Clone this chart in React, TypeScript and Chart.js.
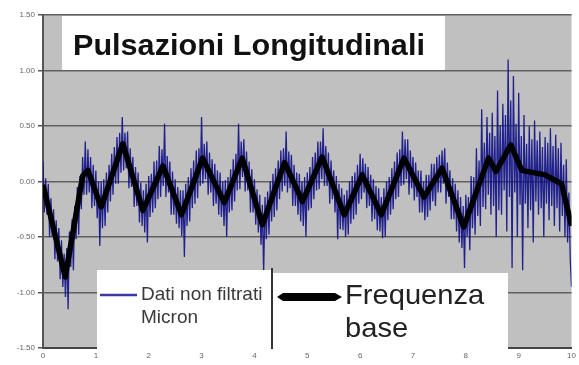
import React, { useEffect, useRef } from "react";
import { Chart, registerables } from "chart.js";

Chart.register(...registerables);

const chartTitle = "Pulsazioni Longitudinali";
const rawLabelLines = ["Dati non filtrati", "Micron"];
const baseLabelLines = ["Frequenza", "base"];
const yTickValues = [-1.5, -1.0, -0.5, 0, 0.5, 1.0, 1.5];
const xTickValues = [0, 1, 2, 3, 4, 5, 6, 7, 8, 9, 10];

// unfiltered signal, one reading every sampleStep (time 0 .. 10)
const sampleStep = 0.025;
const rawValues = [
  0.18, -0.28, 0.03, -0.3, -0.02, -0.5, -0.15, -0.5, -0.25, -0.7, -0.35, -0.72, -0.42, -0.88, -0.53, -0.95, -0.65, -1.04, -0.6, -1.15,
  -0.45, -0.77, -0.34, -0.8, -0.22, -0.52, -0.05, -0.48, 0.05, -0.25, 0.22, -0.12, 0.36, -0.12, 0.29, -0.1, 0.22, -0.24, 0.15, -0.22,
  0.1, -0.33, 0.0, -0.58, 0.0, -0.42, 0.02, -0.4, 0.08, -0.28, 0.15, -0.18, 0.25, -0.12, 0.31, -0.02, 0.4, -0.02, 0.44, 0.08,
  0.58, 0.1, 0.44, 0.12, 0.45, -0.06, 0.3, -0.05, 0.22, -0.23, 0.13, -0.22, 0.08, -0.37, -0.01, -0.4, -0.08, -0.46, -0.02, -0.55,
  0.05, -0.32, 0.07, -0.28, 0.18, -0.24, 0.19, -0.16, 0.32, -0.14, 0.29, -0.04, 0.52, -0.14, 0.23, -0.1, 0.18, -0.3, 0.09, -0.3,
  0.02, -0.38, -0.05, -0.42, -0.08, -0.49, -0.08, -0.68, -0.02, -0.4, 0.04, -0.36, 0.12, -0.24, 0.19, -0.2, 0.28, -0.15, 0.3, -0.04,
  0.58, -0.02, 0.34, 0.02, 0.36, -0.12, 0.26, -0.1, 0.2, -0.22, 0.16, -0.2, 0.1, -0.3, 0.08, -0.32, 0.0, -0.4, 0.01, -0.5,
  0.04, -0.28, 0.11, -0.26, 0.2, -0.18, 0.25, -0.08, 0.52, -0.07, 0.36, 0.04, 0.38, -0.09, 0.27, -0.08, 0.18, -0.28, 0.11, -0.28,
  0.02, -0.39, -0.07, -0.46, -0.12, -0.57, -0.21, -0.82, -0.14, -0.52, -0.09, -0.48, 0.0, -0.36, 0.07, -0.32, 0.12, -0.26, 0.19, -0.16,
  0.28, -0.09, 0.3, -0.04, 0.45, -0.1, 0.27, -0.06, 0.24, -0.22, 0.15, -0.22, 0.08, -0.3, 0.07, -0.36, 0.0, -0.4, 0.04, -0.5,
  0.08, -0.26, 0.13, -0.24, 0.22, -0.16, 0.26, -0.08, 0.36, -0.07, 0.36, 0.02, 0.48, -0.04, 0.32, -0.04, 0.26, -0.2, 0.19, -0.16,
  0.1, -0.28, 0.05, -0.52, -0.02, -0.43, -0.06, -0.44, -0.12, -0.5, -0.08, -0.48, 0.0, -0.38, 0.05, -0.34, 0.08, -0.3, 0.15, -0.2,
  0.25, -0.16, 0.21, -0.1, 0.16, -0.24, 0.13, -0.22, 0.06, -0.36, 0.02, -0.34, -0.04, -0.44, -0.06, -0.45, -0.14, -0.51, -0.06, -0.5,
  0.0, -0.35, 0.04, -0.3, 0.12, -0.25, 0.18, -0.16, 0.26, -0.14, 0.29, -0.04, 0.45, -0.03, 0.38, 0.02, 0.38, -0.12, 0.28, -0.06,
  0.22, -0.17, 0.17, -0.14, 0.1, -0.28, 0.1, -0.28, 0.0, -0.35, 0.06, -0.32, 0.06, -0.26, 0.16, -0.18, 0.16, -0.22, 0.22, -0.1,
  0.24, -0.1, 0.28, -0.02, 0.3, -0.2, 0.17, -0.14, 0.1, -0.34, 0.03, -0.34, -0.02, -0.45, -0.08, -0.55, -0.14, -0.6, -0.22, -0.78,
  -0.12, -0.5, -0.14, -0.62, 0.05, -0.42, 0.04, -0.48, 0.3, -0.31, 0.19, -0.4, 0.65, -0.23, 0.35, -0.25, 0.58, -0.12, 0.44, -0.3,
  0.62, -0.22, 0.41, -0.5, 0.82, -0.26, 0.51, -0.3, 0.7, -0.08, 0.6, -0.45, 1.1, -0.14, 0.73, -0.78, 0.95, -0.1, 0.52, -0.5,
  0.8, -0.21, 0.41, -0.8, 0.6, -0.2, 0.34, -0.42, 0.5, -0.26, 0.38, -0.55, 0.55, -0.18, 0.37, -0.3, 0.45, -0.24, 0.31, -0.5,
  0.4, -0.2, 0.35, -0.35, 0.48, -0.22, 0.32, -0.4, 0.42, -0.24, 0.3, -0.45, 0.35, -0.31, 0.15, -0.5, 0.2, -0.55, -0.1, -0.7,
  -0.95,
];

// filtered (base frequency) line
const baseTimes = [
  0, 0.42, 0.75, 0.85, 1.1, 1.51, 1.89, 2.27, 2.62, 3.02, 3.43, 3.77, 4.15, 4.57, 4.91,
  5.28, 5.7, 6.04, 6.4, 6.83, 7.21, 7.55, 7.96, 8.43, 8.57, 8.85, 9.06, 9.5, 9.81, 10,
];
const baseValues = [
  -0.03, -0.86, 0.05, 0.1, -0.23, 0.34, -0.26, 0.14, -0.3, 0.21, -0.19, 0.21, -0.39, 0.17, -0.18,
  0.22, -0.3, 0.06, -0.3, 0.21, -0.14, 0.12, -0.41, 0.21, 0.09, 0.33, 0.1, 0.06, -0.02, -0.4,
];

const FONT = '"Liberation Sans", Arial, sans-serif';

export default function App() {
  const canvasRef = useRef<HTMLCanvasElement | null>(null);

  useEffect(() => {
    document.body.style.margin = "0";
    const canvas = canvasRef.current;
    if (!canvas) return;

    const rawPoints = rawValues.map((v, i) => ({ x: i * sampleStep, y: v }));
    const basePoints = baseTimes.map((t, i) => ({ x: t, y: baseValues[i] }));

    const backgroundPlugin = {
      id: "plotBackground",
      beforeDraw(chart: any) {
        const { ctx, chartArea: a } = chart;
        ctx.save();
        ctx.fillStyle = "#c0c0c0";
        ctx.fillRect(a.left, a.top, a.right - a.left, a.bottom - a.top);
        ctx.restore();
      },
    };

    const overlayPlugin = {
      id: "overlays",
      afterDatasetsDraw(chart: any) {
        const { ctx, chartArea: a } = chart;
        const ds = chart.data.datasets;
        ctx.save();

        // title box
        ctx.fillStyle = "#ffffff";
        ctx.fillRect(a.left + 19, a.top + 1, 383, 54);
        ctx.fillStyle = "#111111";
        ctx.font = `bold 30px ${FONT}`;
        ctx.textBaseline = "alphabetic";
        ctx.textAlign = "left";
        ctx.save();
        ctx.translate(a.left + 30, a.top + 40);
        ctx.scale(1.02, 1);
        ctx.fillText(chartTitle, 0, 0);
        ctx.restore();

        // legend box
        const legTop = a.top + 255;
        ctx.fillStyle = "#ffffff";
        ctx.fillRect(a.left + 54, legTop, 175, a.bottom - legTop + 2);
        ctx.fillRect(a.left + 230, legTop + 3, 235, a.bottom - legTop);
        ctx.strokeStyle = "#333333";
        ctx.lineWidth = 2;
        ctx.beginPath();
        ctx.moveTo(a.left + 229, legTop - 2);
        ctx.lineTo(a.left + 229, a.bottom + 1);
        ctx.stroke();

        ctx.strokeStyle = "#3838a8";
        ctx.lineWidth = 2.5;
        ctx.beginPath();
        ctx.moveTo(a.left + 57, legTop + 25);
        ctx.lineTo(a.left + 94, legTop + 25);
        ctx.stroke();
        ctx.fillStyle = "#3a3a3a";
        ctx.font = `19px ${FONT}`;
        ctx.textBaseline = "middle";
        ctx.fillText(rawLabelLines[0], a.left + 98, legTop + 25);
        ctx.fillText(rawLabelLines[1], a.left + 98, legTop + 48);

        // arrow
        const ay = legTop + 27;
        const ax = a.left + 234;
        ctx.fillStyle = ds[1].borderColor;
        ctx.beginPath();
        ctx.moveTo(ax, ay);
        ctx.lineTo(ax + 6, ay - 4);
        ctx.lineTo(ax + 58, ay - 4);
        ctx.lineTo(ax + 65, ay);
        ctx.lineTo(ax + 58, ay + 4);
        ctx.lineTo(ax + 6, ay + 4);
        ctx.closePath();
        ctx.fill();

        ctx.fillStyle = "#222222";
        ctx.font = `28px ${FONT}`;
        ctx.save();
        ctx.translate(a.left + 302, legTop + 26);
        ctx.scale(1.04, 1);
        ctx.fillText(baseLabelLines[0], 0, 0);
        ctx.fillText(baseLabelLines[1], 0, 33);
        ctx.restore();

        ctx.restore();
      },
    };

    const chart = new Chart(canvas, {
      type: "line",
      data: {
        datasets: [
          {
            label: rawLabelLines.join(" "),
            data: rawPoints,
            borderColor: "rgba(16, 16, 135, 0.9)",
            borderWidth: 1.3,
            pointRadius: 0,
            tension: 0,
            order: 2,
          },
          {
            label: baseLabelLines.join(" "),
            data: basePoints,
            borderColor: "#000000",
            borderWidth: 5.5,
            pointRadius: 0,
            tension: 0,
            borderJoinStyle: "round",
            order: 1,
          },
        ],
      },
      options: {
        responsive: false,
        animation: false,
        layout: { padding: { top: 15, right: 5, left: 0, bottom: 0 } },
        plugins: {
          legend: { display: false },
          title: { display: false },
          tooltip: { enabled: false },
        },
        scales: {
          x: {
            type: "linear",
            min: 0,
            max: 10,
            afterBuildTicks: (s: any) => {
              s.ticks = xTickValues.map((v) => ({ value: v }));
            },
            afterFit: (s: any) => {
              s.height = 17;
            },
            ticks: {
              font: { family: FONT, size: 8 },
              color: "#666666",
              padding: 3,
              maxRotation: 0,
              callback: (v: any) => String(v),
            },
            grid: { drawOnChartArea: false, drawTicks: false },
            border: { display: true, color: "#444444", width: 2 },
          },
          y: {
            min: -1.5,
            max: 1.5,
            afterBuildTicks: (s: any) => {
              s.ticks = yTickValues.map((v) => ({ value: v }));
            },
            afterFit: (s: any) => {
              s.width = 43;
            },
            ticks: {
              font: { family: FONT, size: 8 },
              color: "#666666",
              padding: 3,
              callback: (v: any) => Number(v).toFixed(2),
            },
            grid: {
              color: "#606060",
              lineWidth: 1.5,
              tickLength: 5,
              tickColor: "#555555",
            },
            border: { display: true, color: "#555555", width: 2 },
          },
        },
      },
      plugins: [backgroundPlugin, overlayPlugin],
    });

    return () => chart.destroy();
  }, []);

  return (
    <div style={{ position: "absolute", left: 0, top: 0, width: 579, height: 365, background: "#ffffff" }}>
      <canvas ref={canvasRef} width={579} height={365} />
    </div>
  );
}
